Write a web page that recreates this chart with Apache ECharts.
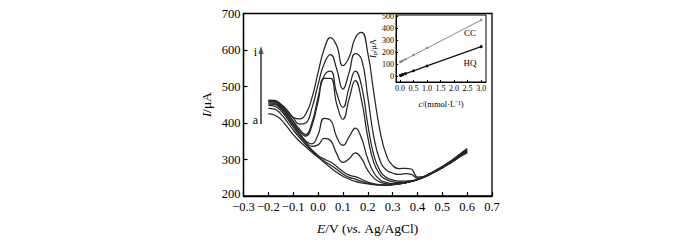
<!DOCTYPE html>
<html>
<head>
<meta charset="utf-8">
<script src="https://cdn.jsdelivr.net/npm/echarts@6/dist/echarts.min.js"></script>
<style>
html,body{margin:0;padding:0;background:#fff;}
#c{width:700px;height:240px;}
</style>
</head>
<body>
<div id="c"></div>
<script>
// Potential (V) shared by all DPV curves
const potential = [-0.2,-0.175,-0.15,-0.125,-0.1,-0.075,-0.05,-0.025,0,0.025,0.05,0.075,0.1,0.125,0.15,0.175,0.2,0.225,0.25,0.275,0.3,0.325,0.35,0.375,0.4,0.425,0.45,0.475,0.5,0.525,0.55,0.575,0.6];
// Current (uA), curves a..i
const curveA = [426,422,410,390,368,350,335,320,306,292,278,265,254,246,240,236,233,231,230,230,231,233,236,240,245,251,259,268,277,287,298,309,318];
const curveB = [440,438,425,404,381,360,341,324,308,295,285,273,260,251,246,240,235,232,231,230,231,233,236,240,245,251,259,268,277,287,298,310,320];
const curveC = [448,446,434,413,389,366,345,327,311,301,293,281,267,257,253,246,238,233,231,230,231,233,236,240,245,252,260,269,278,288,299,311,321];
const curveD = [452,451,439,418,394,371,350,336,340,358,352,316,292,302,318,303,270,249,238,234,232,233,236,240,245,252,260,269,278,289,300,312,323];
const curveE = [455,454,442,421,397,373,351,343,368,413,408,362,339,362,386,358,302,263,244,237,234,234,236,240,245,252,260,269,279,289,301,313,324];
const curveF = [458,457,445,426,403,379,364,392,458,522,522,452,410,466,516,462,362,290,258,245,239,237,238,240,246,252,260,270,279,290,301,314,325];
const curveG = [460,459,447,429,406,383,368,400,470,530,542,482,443,497,542,502,396,310,268,251,244,241,241,242,246,253,261,270,280,290,302,315,326];
const curveH = [461,460,450,434,414,397,400,440,505,563,587,548,493,538,590,575,472,360,296,271,263,259,261,259,249,253,261,270,280,291,303,316,328];
const curveI = [463,462,452,436,416,411,424,468,538,603,634,612,557,580,633,648,592,480,376,312,284,275,276,274,252,253,262,271,281,292,304,317,330];
const curves = [curveA,curveB,curveC,curveD,curveE,curveF,curveG,curveH,curveI];

// Inset: calibration
const conc = [0.01,0.05,0.1,0.2,0.5,1.0,3.0];
const ipCC = [121,126,132,143,178,236,468];
const ipHQ = [9,12,16,24,48,88,248];

// Tick labels
const insetXTicks = [0,0.5,1.0,1.5,2.0,2.5,3.0];
const insetYTicks = [0,100,200,300,400,500];

const FONT = 'Liberation Serif';
const fmt1 = v => (v < -1e-9 ? '\u2212' : '') + Math.abs(v).toFixed(1);

const chart = echarts.init(document.getElementById('c'), null, {renderer:'svg'});

const series = curves.map(c => ({
  type:'line', xAxisIndex:0, yAxisIndex:0, smooth:0.5, showSymbol:false, silent:true,
  data: potential.map((e,i)=>[e,c[i]]),
  lineStyle:{color:'#262626', width:1.25}
}));
series.push({
  type:'line', xAxisIndex:1, yAxisIndex:1, silent:true,
  data: conc.map((x,i)=>[x,ipCC[i]]),
  symbol:'circle', symbolSize:2.5, showSymbol:true,
  itemStyle:{color:'#8a8a8a'}, lineStyle:{color:'#8a8a8a', width:1}
});
series.push({
  type:'line', xAxisIndex:1, yAxisIndex:1, silent:true,
  data: conc.map((x,i)=>[x,ipHQ[i]]),
  symbol:'circle', symbolSize:3, showSymbol:true,
  itemStyle:{color:'#111'}, lineStyle:{color:'#111', width:1.3}
});

chart.setOption({
  animation:false,
  backgroundColor:'#fff',
  grid:[
    {left:243.5, right:208, top:13.5, bottom:44, show:true, borderColor:'#000', borderWidth:1.3, backgroundColor:'transparent'},
    {left:396, right:214, top:15, bottom:158, show:true, borderColor:'#000', borderWidth:1, backgroundColor:'transparent'}
  ],
  xAxis:[
    {type:'value', gridIndex:0, min:-0.3, max:0.7, interval:0.1,
     axisLine:{onZero:false, lineStyle:{color:'#000', width:1.3}},
     axisTick:{inside:true, length:4, lineStyle:{color:'#000', width:1.2}},
     axisLabel:{color:'#000', fontFamily:FONT, fontSize:12.5, margin:6, lineHeight:9, formatter:fmt1},
     splitLine:{show:false},
     name:'{it|E}/V ({it|vs.} Ag/AgCl)', nameLocation:'middle', nameGap:25,
     nameTextStyle:{color:'#000', fontFamily:FONT, fontSize:13.5,
       rich:{it:{fontStyle:'italic', fontFamily:FONT, fontSize:13.5, color:'#000'}}}
    },
    {type:'value', gridIndex:1, min:-0.15, max:3.18,
     axisLine:{onZero:false, lineStyle:{color:'#000', width:1}},
     axisTick:{inside:true, length:2, customValues:insetXTicks, lineStyle:{color:'#000'}},
     axisLabel:{color:'#000', fontFamily:FONT, fontSize:8, margin:2, customValues:insetXTicks, formatter:fmt1},
     splitLine:{show:false},
     name:'{it|c}/(mmol·L⁻¹)', nameLocation:'middle', nameGap:17,
     nameTextStyle:{color:'#000', fontFamily:FONT, fontSize:8.5,
       rich:{it:{fontStyle:'italic', fontFamily:FONT, fontSize:8.5, color:'#000'}}}
    }
  ],
  yAxis:[
    {type:'value', gridIndex:0, min:200, max:700, interval:100,
     axisLine:{onZero:false, lineStyle:{color:'#000', width:1.3}},
     axisTick:{inside:true, length:4, lineStyle:{color:'#000', width:1.2}},
     axisLabel:{color:'#000', fontFamily:FONT, fontSize:12.5, margin:3, lineHeight:9, verticalAlign:'middle',
       formatter: v => v === 200 ? '{lo|200}' : String(v),
       rich:{lo:{fontFamily:FONT, fontSize:12.5, color:'#000', lineHeight:9, padding:[0,0,4,0]}}},
     splitLine:{show:false},
     name:'{it|I}/μA', nameLocation:'middle', nameGap:30, nameRotate:90,
     nameTextStyle:{color:'#000', fontFamily:FONT, fontSize:13.5,
       rich:{it:{fontStyle:'italic', fontFamily:FONT, fontSize:13.5, color:'#000'}}}
    },
    {type:'value', gridIndex:1, min:-45, max:510,
     axisLine:{onZero:false, lineStyle:{color:'#000', width:1}},
     axisTick:{inside:true, length:2, customValues:insetYTicks, lineStyle:{color:'#000'}},
     axisLabel:{color:'#000', fontFamily:FONT, fontSize:8, margin:2, customValues:insetYTicks},
     splitLine:{show:false},
     name:'{it|I}{sub|p}/μA', nameLocation:'middle', nameGap:17, nameRotate:90,
     nameTextStyle:{color:'#000', fontFamily:FONT, fontSize:8.5,
       rich:{it:{fontStyle:'italic', fontFamily:FONT, fontSize:8.5, color:'#000'},
             sub:{fontFamily:FONT, fontSize:6, color:'#000', verticalAlign:'bottom', padding:[4,0,0,0]}}}
    }
  ],
  graphic:[
    {type:'line', z:10, shape:{x1:261, y1:124, x2:261, y2:53}, style:{stroke:'#555', lineWidth:1.8}},
    {type:'polygon', z:10, shape:{points:[[261,46],[258.3,54],[263.7,54]]}, style:{fill:'#555'}},
    {type:'text', z:10, x:255.5, y:52, style:{text:'i', font:'12px "Liberation Serif"', fill:'#000', textAlign:'center', textVerticalAlign:'middle'}},
    {type:'text', z:10, x:255.5, y:120, style:{text:'a', font:'12px "Liberation Serif"', fill:'#000', textAlign:'center', textVerticalAlign:'middle'}},
    {type:'text', z:10, x:470, y:33, style:{text:'CC', font:'9px "Liberation Serif"', fill:'#000', textAlign:'center', textVerticalAlign:'middle'}},
    {type:'text', z:10, x:470, y:63, style:{text:'HQ', font:'9px "Liberation Serif"', fill:'#000', textAlign:'center', textVerticalAlign:'middle'}}
  ],
  series: series
});
</script>
</body>
</html>
